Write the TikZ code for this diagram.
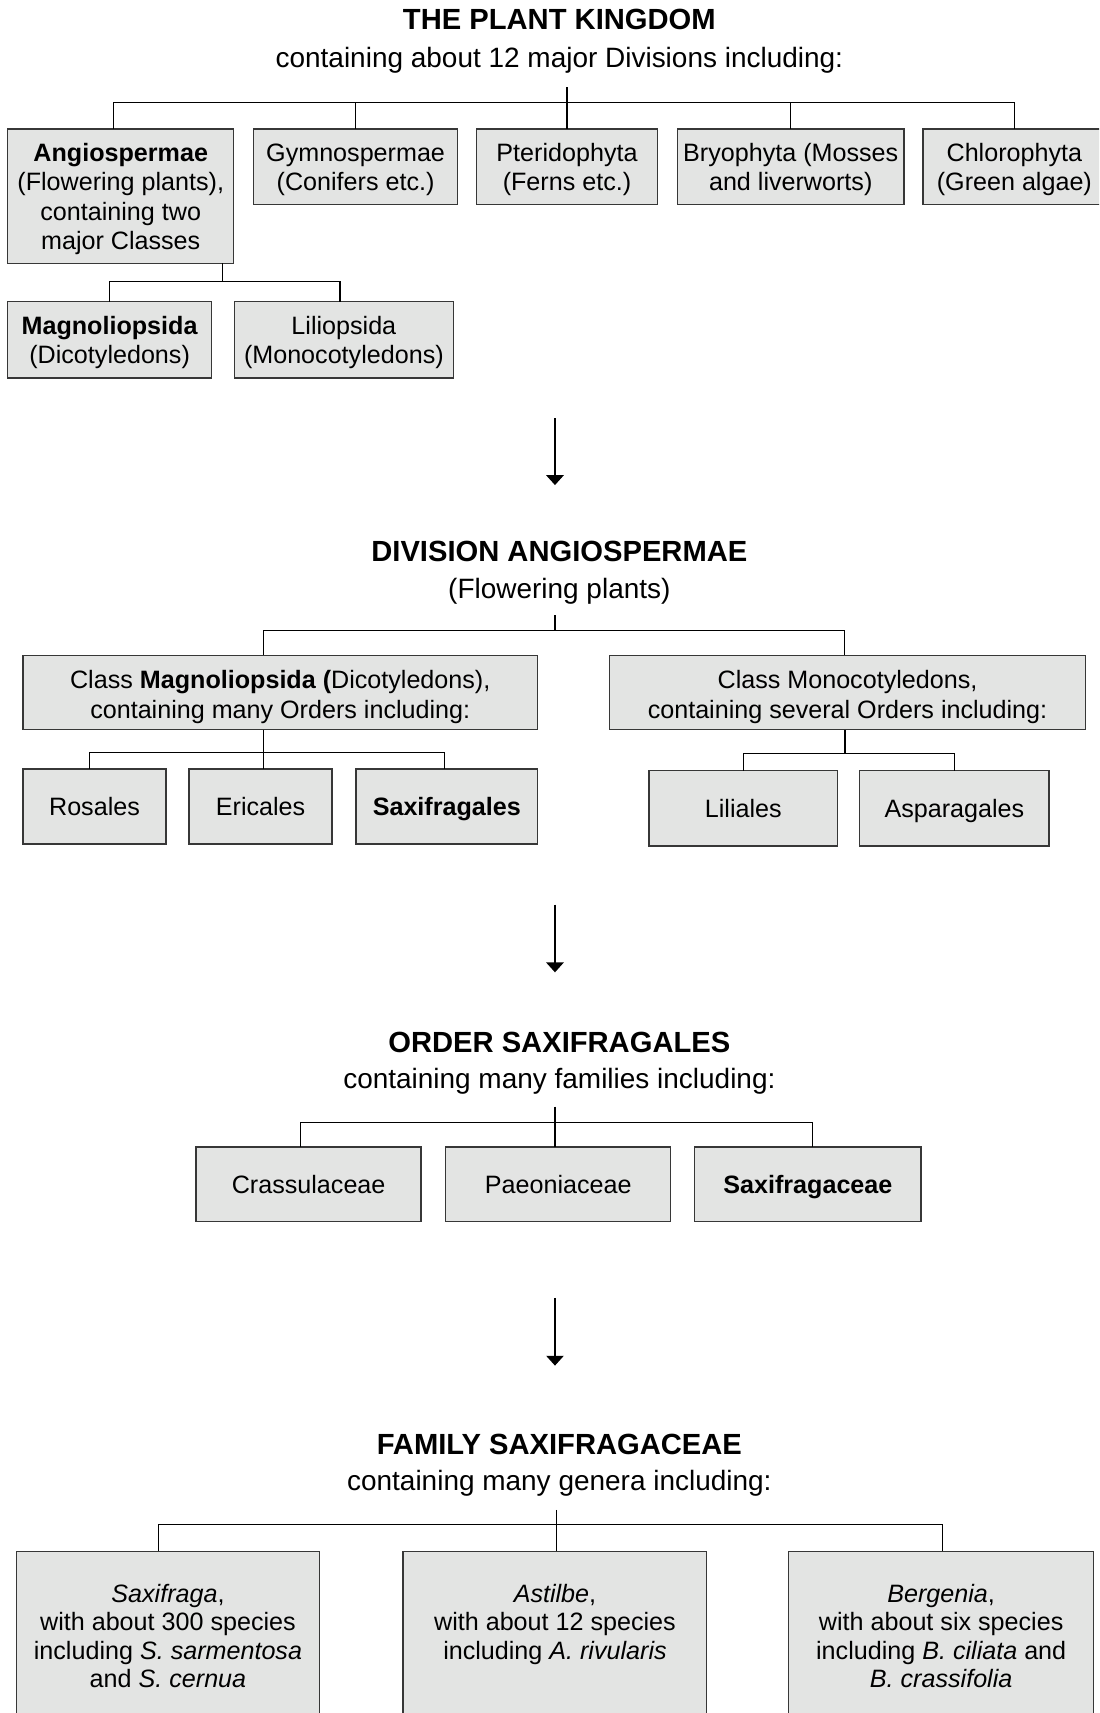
\documentclass[tikz,border=0pt]{standalone}
\usepackage{fontspec}
\setmainfont{Liberation Sans}
\usetikzlibrary{arrows.meta,calc}
\definecolor{boxfill}{RGB}{227,228,227}
\definecolor{boxline}{RGB}{55,55,55}
\newcommand\tstrutA{\rule{0pt}{22pt}}
\newcommand\tstrutB{\rule{0pt}{25pt}}
\begin{document}
\begin{tikzpicture}[x=1pt,y=-1pt,
  box/.style={draw=boxline, fill=boxfill, line width=1.2pt, inner sep=0pt, outer sep=0pt, align=center, font=\fontsize{23}{27}\selectfont},
  sbox/.style={box, text height=17pt, text depth=0pt},
  gtext/.style={inner sep=0pt, align=center, font=\fontsize{23}{26}\selectfont},
  head/.style={inner sep=0pt, font=\fontsize{26.7}{30}\selectfont\bfseries},
  subhead/.style={inner sep=0pt, font=\fontsize{25.6}{30}\selectfont},
  conn/.style={line width=1.0pt, black},
  flow/.style={line width=1.0pt, black, -{Triangle[length=9pt,width=16pt]}}]
\useasboundingbox (0,0) rectangle (1006,1568);
\clip (0,0) rectangle (1006,1568);
\fill[white] (0,0) rectangle (1006,1568);

% ---------- Section 1 ----------
\node[head] (t1) at (512,18) {THE PLANT KINGDOM};
\node[subhead] (s1) at (512,55) {containing about 12 major Divisions including:};

\node[box, minimum width=207, minimum height=123] (angio) at (110.5,179.5)
  {\tstrutA\textbf{Angiospermae}\\(Flowering plants),\\containing two\\major Classes};
\node[box, minimum width=187, minimum height=69] (gymno) at (325.5,152.5)
  {\tstrutA Gymnospermae\\(Conifers etc.)};
\node[box, minimum width=166, minimum height=69] (pterid) at (519,152.5)
  {\tstrutA Pteridophyta\\(Ferns etc.)};
\node[box, minimum width=207.6, minimum height=69] (bryo) at (723.8,152.5)
  {\tstrutA Bryophyta (Mosses\\and liverworts)};
\node[box, minimum width=167, minimum height=69] (chloro) at (928.5,152.5)
  {\tstrutA Chlorophyta\\(Green algae)};
\node[box, minimum width=186.7, minimum height=70] (magno) at (100.35,311)
  {\tstrutA\textbf{Magnoliopsida}\\(Dicotyledons)};
\node[box, minimum width=200.5, minimum height=70] (lilio) at (314.75,311)
  {\tstrutA Liliopsida\\(Monocotyledons)};

\coordinate (k1) at (519,80);
\coordinate (h1) at (519,94);
\draw[conn] (k1) -- (h1);
\draw[conn] (h1) -| ($(angio.north)+(-7,0)$);
\foreach \n in {gymno,pterid,bryo,chloro} \draw[conn] (h1) -| (\n.north);
\coordinate (h1b) at (204,258);
\draw[conn] (angio.south -| h1b) -- (h1b);
\draw[conn] (h1b) -| (magno.north);
\draw[conn] (h1b) -| ($(lilio.north)+(-3.5,0)$);

\coordinate (a1s) at (508,383);
\coordinate (a1e) at (508,444);
\draw[flow] (a1s) -- (a1e);

% ---------- Section 2 ----------
\node[head] (t2) at (512,505) {DIVISION ANGIOSPERMAE};
\node[subhead] (s2) at (512,541) {(Flowering plants)};

\node[box, minimum width=471, minimum height=68] (classM) at (256.5,634)
  {\tstrutB Class \textbf{Magnoliopsida (}Dicotyledons),\\containing many Orders including:};
\node[box, minimum width=436, minimum height=68] (classMono) at (775.75,634)
  {\tstrutB Class Monocotyledons,\\containing several Orders including:};
\node[sbox, minimum width=131, minimum height=68.6] (rosales) at (86.5,738.3) {Rosales};
\node[sbox, minimum width=131, minimum height=68.6] (ericales) at (238.5,738.3) {Ericales};
\node[sbox, minimum width=166, minimum height=68.6] (saxales) at (409,738.3) {\textbf{Saxifragales}};
\node[sbox, minimum width=172.8, minimum height=69] (liliales) at (680.4,740) {Liliales};
\node[sbox, minimum width=173.3, minimum height=69] (aspar) at (873.65,740) {Asparagales};

\coordinate (k2) at (508,563);
\coordinate (h2) at (508,577);
\draw[conn] (k2) -- (h2);
\draw[conn] (h2) -| ($(classM.north)+(-15.5,0)$);
\draw[conn] (h2) -| ($(classMono.north)+(-2.5,0)$);
\coordinate (h2a) at (241,689);
\draw[conn] (classM.south -| h2a) -- (h2a);
\draw[conn] (h2a) -| ($(rosales.north)+(-4.5,0)$);
\draw[conn] (h2a) -- (ericales.north -| h2a);
\draw[conn] (h2a) -| ($(saxales.north)+(-2,0)$);
\coordinate (h2b) at (773.5,689.5);
\draw[conn] (classMono.south -| h2b) -- (h2b);
\draw[conn] (h2b) -| (liliales.north);
\draw[conn] (h2b) -| (aspar.north);

\coordinate (a2s) at (508,828);
\coordinate (a2e) at (508,890);
\draw[flow] (a2s) -- (a2e);

% ---------- Section 3 ----------
\node[head] (t3) at (512,954) {ORDER SAXIFRAGALES};
\node[subhead] (s3) at (512,990) {containing many families including:};

\node[sbox, minimum width=206, minimum height=68] (crass) at (282.5,1084) {Crassulaceae};
\node[sbox, minimum width=206, minimum height=68] (paeon) at (511,1084) {Paeoniaceae};
\node[sbox, minimum width=207, minimum height=68] (saxa) at (739.5,1084) {\textbf{Saxifragaceae}};

\coordinate (k3) at (508,1013);
\coordinate (h3) at (508,1027.5);
\draw[conn] (k3) -- (h3);
\draw[conn] (h3) -| ($(crass.north)+(-7.5,0)$);
\draw[conn] (h3) -- (paeon.north -| h3);
\draw[conn] (h3) -| ($(saxa.north)+(4.5,0)$);

\coordinate (a3s) at (508,1188);
\coordinate (a3e) at (508,1250);
\draw[flow] (a3s) -- (a3e);

% ---------- Section 4 ----------
\node[head] (t4) at (512,1322) {FAMILY SAXIFRAGACEAE};
\node[subhead] (s4) at (512,1358) {containing many genera including:};

\node[box, minimum width=277.5, minimum height=170, anchor=north] (g1) at (153.75,1420) {};
\node[box, minimum width=278, minimum height=170, anchor=north] (g2) at (508,1420) {};
\node[box, minimum width=279, minimum height=170, anchor=north] (g3) at (861.5,1420) {};
\node[gtext, anchor=north] (g1t) at ($(g1.north)+(0,30)$)
  {\textit{Saxifraga},\\with about 300 species\\including \textit{S. sarmentosa}\\and \textit{S. cernua}};
\node[gtext, anchor=north] (g2t) at ($(g2.north)+(0,30)$)
  {\textit{Astilbe},\\with about 12 species\\including \textit{A. rivularis}};
\node[gtext, anchor=north] (g3t) at ($(g3.north)+(0,30)$)
  {\textit{Bergenia},\\with about six species\\including \textit{B. ciliata} and\\\textit{B. crassifolia}};

\coordinate (k4) at (509,1382);
\coordinate (h4) at (509,1395.5);
\draw[conn] (k4) -- (h4);
\draw[conn] (h4) -| ($(g1.north)+(-8.5,0)$);
\draw[conn] (h4) -- (g2.north -| h4);
\draw[conn] (h4) -| ($(g3.north)+(1.5,0)$);
\end{tikzpicture}
\end{document}
